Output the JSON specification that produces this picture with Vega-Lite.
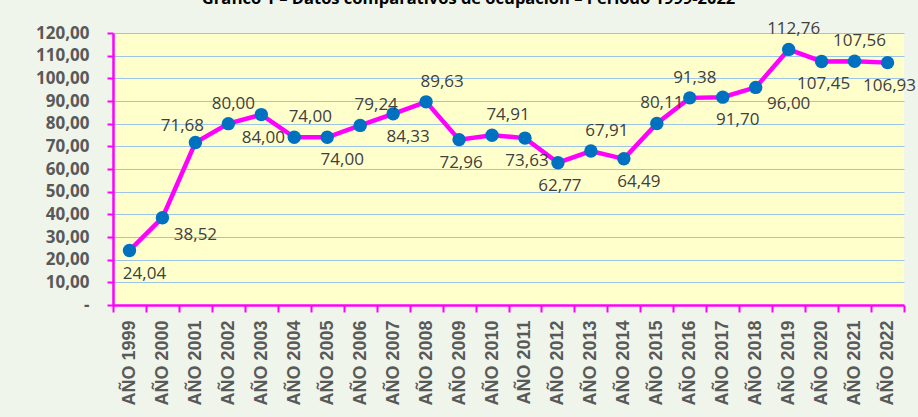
{
  "$schema": "https://vega.github.io/schema/vega-lite/v6.json",
  "autosize": "none",
  "padding": {"left": 113, "top": 33, "right": 14, "bottom": 112},
  "width": 791,
  "height": 272,
  "background": "#EFF5EA",
  "title": {
    "text": "Gráfico 1 – Datos comparativos de ocupación – Período 1999-2022",
    "font": "Open Sans",
    "fontSize": 16.5,
    "fontWeight": "bold",
    "color": "#000000",
    "anchor": "middle",
    "frame": "group",
    "dx": -40,
    "baseline": "alphabetic",
    "offset": 0,
    "dy": 0
  },
  "config": {
    "locale": {"number": {"decimal": ",", "thousands": ".", "grouping": [3], "currency": ["", " €"]}},
    "view": {"stroke": null, "fill": "#FFFFCC"}
  },
  "data": {
    "values": [
      {"anio": "AÑO 1999", "valor": 24.04},
      {"anio": "AÑO 2000", "valor": 38.52},
      {"anio": "AÑO 2001", "valor": 71.68},
      {"anio": "AÑO 2002", "valor": 80.00},
      {"anio": "AÑO 2003", "valor": 84.00},
      {"anio": "AÑO 2004", "valor": 74.00},
      {"anio": "AÑO 2005", "valor": 74.00},
      {"anio": "AÑO 2006", "valor": 79.24},
      {"anio": "AÑO 2007", "valor": 84.33},
      {"anio": "AÑO 2008", "valor": 89.63},
      {"anio": "AÑO 2009", "valor": 72.96},
      {"anio": "AÑO 2010", "valor": 74.91},
      {"anio": "AÑO 2011", "valor": 73.63},
      {"anio": "AÑO 2012", "valor": 62.77},
      {"anio": "AÑO 2013", "valor": 67.91},
      {"anio": "AÑO 2014", "valor": 64.49},
      {"anio": "AÑO 2015", "valor": 80.11},
      {"anio": "AÑO 2016", "valor": 91.38},
      {"anio": "AÑO 2017", "valor": 91.70},
      {"anio": "AÑO 2018", "valor": 96.00},
      {"anio": "AÑO 2019", "valor": 112.76},
      {"anio": "AÑO 2020", "valor": 107.45},
      {"anio": "AÑO 2021", "valor": 107.56},
      {"anio": "AÑO 2022", "valor": 106.93}
    ]
  },
  "encoding": {
    "x": {
      "field": "anio",
      "type": "nominal",
      "sort": null,
      "scale": {"type": "band", "paddingInner": 0, "paddingOuter": 0},
      "axis": {
        "title": null,
        "labelAngle": -90,
        "labelFont": "Liberation Sans",
        "labelFontSize": 18,
        "labelFontWeight": "bold",
        "labelColor": "#595959",
        "labelPadding": 8,
        "domainColor": "#FF00FF",
        "domainWidth": 2.5,
        "tickColor": "#FF00FF",
        "tickWidth": 2,
        "tickSize": 7,
        "tickBand": "extent",
        "grid": false
      }
    },
    "y": {
      "field": "valor",
      "type": "quantitative",
      "scale": {"domain": [0, 120], "nice": false, "zero": true},
      "axis": {
        "title": null,
        "values": [0, 10, 20, 30, 40, 50, 60, 70, 80, 90, 100, 110, 120],
        "format": ".2f",
        "labelExpr": "datum.value === 0 ? '-' : datum.label",
        "labelFont": "Open Sans",
        "labelFontSize": 17,
        "labelFontWeight": "bold",
        "labelColor": "#595959",
        "labelPadding": 18,
        "domainColor": "#FF00FF",
        "domainWidth": 2.5,
        "tickColor": "#FF00FF",
        "tickWidth": 2,
        "tickSize": 6,
        "grid": true,
        "gridColor": "#9DC3E6",
        "gridWidth": 1
      }
    }
  },
  "layer": [
    {
      "mark": {"type": "line", "color": "#FF00FF", "strokeWidth": 4.5}
    },
    {
      "mark": {"type": "point", "filled": true, "color": "#0070C0", "opacity": 1, "size": 180}
    },
    {
      "transform": [{"filter": {"field": "anio", "oneOf": ["AÑO 2002", "AÑO 2015", "AÑO 2016", "AÑO 2019", "AÑO 2021"]}}],
      "mark": {"type": "text", "font": "Open Sans", "fontSize": 17, "color": "#404040", "dx": 5, "dy": -20},
      "encoding": {"text": {"field": "valor", "type": "quantitative", "format": ".2f"}}
    },
    {
      "transform": [{"filter": {"field": "anio", "oneOf": ["AÑO 2004", "AÑO 2006", "AÑO 2008", "AÑO 2010", "AÑO 2013"]}}],
      "mark": {"type": "text", "font": "Open Sans", "fontSize": 17, "color": "#404040", "dx": 16, "dy": -20},
      "encoding": {"text": {"field": "valor", "type": "quantitative", "format": ".2f"}}
    },
    {
      "transform": [{"filter": {"field": "anio", "oneOf": ["AÑO 2001"]}}],
      "mark": {"type": "text", "font": "Open Sans", "fontSize": 17, "color": "#404040", "dx": -13, "dy": -17},
      "encoding": {"text": {"field": "valor", "type": "quantitative", "format": ".2f"}}
    },
    {
      "transform": [{"filter": {"field": "anio", "oneOf": ["AÑO 2003", "AÑO 2009", "AÑO 2011", "AÑO 2012", "AÑO 2020", "AÑO 2022"]}}],
      "mark": {"type": "text", "font": "Open Sans", "fontSize": 17, "color": "#404040", "dx": 2, "dy": 23},
      "encoding": {"text": {"field": "valor", "type": "quantitative", "format": ".2f"}}
    },
    {
      "transform": [{"filter": {"field": "anio", "oneOf": ["AÑO 1999", "AÑO 2005", "AÑO 2007", "AÑO 2014", "AÑO 2017"]}}],
      "mark": {"type": "text", "font": "Open Sans", "fontSize": 17, "color": "#404040", "dx": 15, "dy": 23},
      "encoding": {"text": {"field": "valor", "type": "quantitative", "format": ".2f"}}
    },
    {
      "transform": [{"filter": {"field": "anio", "oneOf": ["AÑO 2000", "AÑO 2018"]}}],
      "mark": {"type": "text", "font": "Open Sans", "fontSize": 17, "color": "#404040", "dx": 33, "dy": 17},
      "encoding": {"text": {"field": "valor", "type": "quantitative", "format": ".2f"}}
    }
  ]
}
